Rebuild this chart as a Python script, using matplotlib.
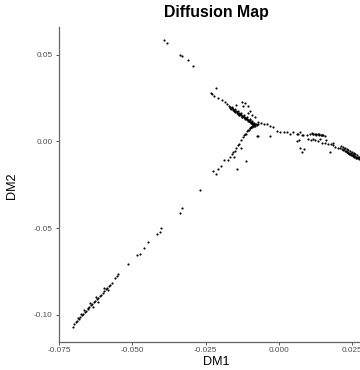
import numpy as np
import matplotlib
matplotlib.use("Agg")
import matplotlib.pyplot as plt

plt.rcParams['font.family'] = ['Liberation Sans', 'DejaVu Sans']
plt.rcParams['axes.unicode_minus'] = False

# diffusion components, grouped by branch of the trajectory
# upper-left sparse arm
arm_top_dm1 = [-0.0392, -0.0382, -0.0337, -0.0331, -0.0310, -0.0293, -0.0215, -0.0232,
               -0.0221, -0.0208, -0.0228, -0.0194, -0.0184, -0.0177]
arm_top_dm2 = [0.0583, 0.0565, 0.0496, 0.0490, 0.0467, 0.0433, 0.0306, 0.0277,
               0.0265, 0.0248, 0.0271, 0.0237, 0.0225, 0.0214]

# dense arm leading into the branch point
arm_dense_dm1 = [-0.0171, -0.0166, -0.0161, -0.0156, -0.0152, -0.0147, -0.0142, -0.0137,
                 -0.0132, -0.0128, -0.0123, -0.0118, -0.0113, -0.0109, -0.0104, -0.0099,
                 -0.0094, -0.0090, -0.0085,
                 -0.0168, -0.0163, -0.0158, -0.0154, -0.0149, -0.0144, -0.0139, -0.0135,
                 -0.0130, -0.0125, -0.0120, -0.0116, -0.0111, -0.0106, -0.0101, -0.0097,
                 -0.0092, -0.0087,
                 -0.0160, -0.0150, -0.0140, -0.0130, -0.0120, -0.0110, -0.0100, -0.0090,
                 -0.0135, -0.0125, -0.0115, -0.0105, -0.0095, -0.0088,
                 -0.0126, -0.0116, -0.0123, -0.0106, -0.0099, -0.0106, -0.0092, -0.0082,
                 -0.0146]
arm_dense_dm2 = [0.0202, 0.0197, 0.0191, 0.0186, 0.0180, 0.0175, 0.0169, 0.0164,
                 0.0159, 0.0153, 0.0148, 0.0142, 0.0137, 0.0131, 0.0126, 0.0121,
                 0.0115, 0.0110, 0.0104,
                 0.0193, 0.0188, 0.0182, 0.0177, 0.0171, 0.0166, 0.0160, 0.0155,
                 0.0150, 0.0144, 0.0139, 0.0133, 0.0128, 0.0122, 0.0117, 0.0112,
                 0.0106, 0.0101,
                 0.0196, 0.0185, 0.0174, 0.0163, 0.0152, 0.0141, 0.0130, 0.0119,
                 0.0152, 0.0141, 0.0130, 0.0119, 0.0108, 0.0097,
                 0.0225, 0.0219, 0.0202, 0.0202, 0.0173, 0.0162, 0.0150, 0.0139,
                 0.0208]

# branch point
junction_dm1 = [-0.0090, -0.0086, -0.0082, -0.0078, -0.0080, -0.0088, -0.0092, -0.0075, -0.0072,
                -0.0094, -0.0098, -0.0084]
junction_dm2 = [0.0100, 0.0095, 0.0098, 0.0102, 0.0092, 0.0088, 0.0082, 0.0096, 0.0100,
                0.0086, 0.0078, 0.0090]

# path to the right
path_right_dm1 = [-0.0071, -0.0061, -0.0051, -0.0041, -0.0031, -0.0020, -0.0007, 0.0003,
                  0.0017, 0.0027, 0.0037, 0.0048, 0.0062, 0.0071, 0.0078, 0.0082, 0.0095,
                  0.0065, -0.0031, -0.0075]
path_right_dm2 = [0.0115, 0.0104, 0.0098, 0.0098, 0.0087, 0.0081, 0.0063, 0.0052,
                  0.0052, 0.0052, 0.0046, 0.0052, 0.0046, 0.0052, 0.0040, 0.0040, 0.0035,
                  0.0046, 0.0029, 0.0029]

# upper sub-branch on the right
sub_upper_dm1 = [0.0108, 0.0113, 0.0118, 0.0123, 0.0128, 0.0133, 0.0138, 0.0143, 0.0148,
                 0.0152, 0.0156, 0.0116, 0.0126, 0.0136, 0.0146]
sub_upper_dm2 = [0.0046, 0.0047, 0.0046, 0.0045, 0.0044, 0.0043, 0.0042, 0.0040, 0.0038,
                 0.0036, 0.0033, 0.0042, 0.0040, 0.0038, 0.0035]

# lower sub-branch and its dense end
sub_lower_dm1 = [0.0099, 0.0109, 0.0123, 0.0133, 0.0147, 0.0157, 0.0167, 0.0178, 0.0184,
                 0.0191, 0.0201, 0.0068, 0.0062, 0.0116, 0.0140, 0.0161,
                 0.0078, 0.0071, 0.0173, 0.0184, 0.0085]
sub_lower_dm2 = [0.0017, 0.0006, 0.0006, 0.0000, -0.0006, -0.0006, -0.0012, -0.0017, -0.0023,
                 -0.0029, -0.0035, 0.0006, 0.0000, 0.0017, 0.0012, 0.0006,
                 -0.0063, -0.0035, -0.0063, -0.0006, -0.0046]

tip_dm1 = [0.0210, 0.0216, 0.0222, 0.0228, 0.0234, 0.0240, 0.0246, 0.0252, 0.0258, 0.0264, 0.0270,
           0.0213, 0.0219, 0.0225, 0.0231, 0.0237, 0.0243, 0.0249, 0.0255, 0.0261, 0.0267,
           0.0219, 0.0225, 0.0231, 0.0237, 0.0243, 0.0249, 0.0255, 0.0261, 0.0267, 0.0272,
           0.0240, 0.0246, 0.0252, 0.0258, 0.0264, 0.0270, 0.0274]
tip_dm2 = [-0.0035, -0.0041, -0.0046, -0.0052, -0.0058, -0.0064, -0.0069, -0.0075, -0.0081, -0.0087, -0.0092,
           -0.0028, -0.0033, -0.0039, -0.0045, -0.0050, -0.0056, -0.0062, -0.0068, -0.0073, -0.0079,
           -0.0049, -0.0055, -0.0061, -0.0066, -0.0072, -0.0078, -0.0083, -0.0089, -0.0095, -0.0099,
           -0.0070, -0.0076, -0.0082, -0.0088, -0.0093, -0.0098, -0.0088]

# long branch running down to the lower left
arm_down_dm1 = [-0.0095, -0.0102, -0.0109, -0.0112, -0.0119, -0.0123, -0.0129, -0.0136,
                -0.0140, -0.0146, -0.0150, -0.0157, -0.0160, -0.0167, -0.0174, -0.0129,
                -0.0153, -0.0187, -0.0198, -0.0208, -0.0215, -0.0225, -0.0143, -0.0112,
                -0.0071, -0.0269, -0.0331, -0.0337, -0.0402, -0.0406, -0.0416, -0.0447,
                -0.0460, -0.0474, -0.0484, -0.0515, -0.0549, -0.0552, -0.0559,
                -0.0098, -0.0105, -0.0116]
arm_down_dm2 = [0.0081, 0.0069, 0.0058, 0.0046, 0.0035, 0.0023, 0.0006, -0.0012,
                -0.0023, -0.0035, -0.0052, -0.0063, -0.0075, -0.0092, -0.0104, -0.0035,
                -0.0087, -0.0104, -0.0144, -0.0156, -0.0185, -0.0173, -0.0156, -0.0115,
                0.0029, -0.0277, -0.0381, -0.0410, -0.0496, -0.0519, -0.0531, -0.0577,
                -0.0612, -0.0646, -0.0652, -0.0704, -0.0762, -0.0773, -0.0785,
                0.0075, 0.0064, 0.0041]

arm_end_dm1 = [-0.0569, -0.0576, -0.0580, -0.0586, -0.0590, -0.0597, -0.0600, -0.0607, -0.0610,
               -0.0617, -0.0620, -0.0627, -0.0631, -0.0638, -0.0641, -0.0648, -0.0651, -0.0658,
               -0.0661, -0.0668, -0.0672, -0.0678, -0.0682, -0.0689, -0.0692, -0.0699, -0.0702,
               -0.0617, -0.0634, -0.0651, -0.0597, -0.0624, -0.0644, -0.0675, -0.0685, -0.0665,
               -0.0583]
arm_end_dm2 = [-0.0814, -0.0825, -0.0831, -0.0842, -0.0848, -0.0860, -0.0871, -0.0883, -0.0889,
               -0.0900, -0.0906, -0.0917, -0.0923, -0.0935, -0.0941, -0.0952, -0.0964, -0.0975,
               -0.0981, -0.0992, -0.0998, -0.1010, -0.1021, -0.1033, -0.1039, -0.1050, -0.1067,
               -0.0923, -0.0952, -0.0958, -0.0842, -0.0894, -0.0929, -0.0992, -0.1015, -0.0969,
               -0.0854]

dm1 = np.concatenate([arm_top_dm1, arm_dense_dm1, junction_dm1, path_right_dm1,
                      sub_upper_dm1, sub_lower_dm1, tip_dm1, arm_down_dm1, arm_end_dm1])
dm2 = np.concatenate([arm_top_dm2, arm_dense_dm2, junction_dm2, path_right_dm2,
                      sub_upper_dm2, sub_lower_dm2, tip_dm2, arm_down_dm2, arm_end_dm2])

x_ticks = [-0.075, -0.050, -0.025, 0.000, 0.025]
y_ticks = [0.05, 0.00, -0.05, -0.10]

fig = plt.figure(figsize=(3.6, 3.7), dpi=100)
ax = fig.add_axes([59 / 360, 1 - 342 / 370, 1 - 59 / 360, (342 - 27) / 370])

ax.scatter(dm1, dm2, s=2.4, c='black', linewidths=0)

ax.set_xlim(-0.075, 0.0277)
ax.set_ylim(-0.1156, 0.066)
ax.set_xticks(x_ticks)
ax.set_xticklabels([f"{v:.3f}" for v in x_ticks])
ax.set_yticks(y_ticks)
ax.set_yticklabels([f"{v:.2f}" for v in y_ticks])

for side in ['top', 'right']:
    ax.spines[side].set_visible(False)
for side in ['left', 'bottom']:
    ax.spines[side].set_color('#666666')
    ax.spines[side].set_linewidth(0.9)

ax.tick_params(axis='both', length=2.2, width=0.7, color='#555555',
               labelsize=5.9, labelcolor='#4d4d4d')
ax.tick_params(axis='x', pad=1.2)
ax.tick_params(axis='y', pad=2.2)

fig.text(216 / 360, 1 - 13 / 370, "Diffusion Map", ha='center', va='center',
         fontsize=11.4, fontweight='bold')
fig.text(216 / 360, 1 - 362 / 370, "DM1", ha='center', va='center', fontsize=9.1)
fig.text(12 / 360, 1 - 186 / 370, "DM2", ha='center', va='center', fontsize=9.1,
         rotation=90)

fig.savefig("out.png", dpi=100)
